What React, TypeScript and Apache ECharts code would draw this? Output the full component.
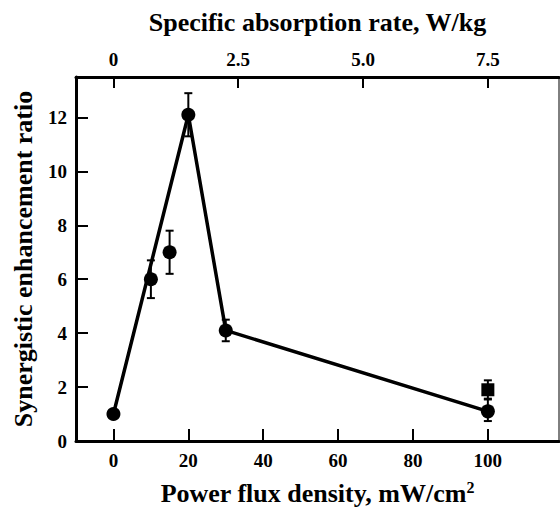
import React, { useEffect, useRef } from "react";
import * as echarts from "echarts";

const bottomTicks = [0, 20, 40, 60, 80, 100];
const topTicks = [0, 2.5, 5, 7.5];
const topTickLabels = ["0", "2.5", "5.0", "7.5"];
const yTicks = [0, 2, 4, 6, 8, 10, 12];

// circles: [power flux density, ratio]
const circlePoints = [
  [0, 1.0],
  [10, 6.0],
  [15, 7.0],
  [20, 12.1],
  [30, 4.1],
  [100, 1.1],
];
// error bars for circles: [x, low, high]
const circleErrors = [
  [10, 5.3, 6.7],
  [15, 6.2, 7.8],
  [20, 11.3, 12.9],
  [30, 3.7, 4.5],
  [100, 0.74, 1.54],
];
const squarePoints = [[100, 1.9]];
const squareErrors = [[100, 1.57, 2.25]];
const linePoints = [
  [0, 1.0],
  [20, 12.1],
  [30, 4.1],
  [100, 1.1],
];

const FONT = "'Liberation Serif', 'DejaVu Serif', serif";

export default function App() {
  const ref = useRef<HTMLDivElement>(null);
  useEffect(() => {
    if (!ref.current) return;
    const chart = echarts.init(ref.current, null, { renderer: "svg" });
    const errRender = (params: any, api: any) => {
      const x = api.value(0);
      const lo = api.coord([x, api.value(1)]);
      const hi = api.coord([x, api.value(2)]);
      const w = 4;
      const st = { stroke: "#000", lineWidth: 2 };
      return {
        type: "group",
        children: [
          { type: "line", shape: { x1: lo[0], y1: lo[1], x2: hi[0], y2: hi[1] }, style: st },
          { type: "line", shape: { x1: lo[0] - w, y1: lo[1], x2: lo[0] + w, y2: lo[1] }, style: st },
          { type: "line", shape: { x1: hi[0] - w, y1: hi[1], x2: hi[0] + w, y2: hi[1] }, style: st },
        ],
      };
    };
    const labelStyle = { color: "#000", fontFamily: FONT, fontWeight: "bold" as const, fontSize: 19 };
    const nameStyle = { color: "#000", fontFamily: FONT, fontWeight: "bold" as const, fontSize: 26 };
    chart.setOption({
      animation: false,
      grid: {
        left: 76,
        right: 1,
        top: 77,
        bottom: 69,
        show: true,
        borderColor: "#000",
        borderWidth: 1,
        containLabel: false,
      },
      xAxis: [
        {
          type: "value",
          position: "bottom",
          min: -10,
          max: 119,
          name: "Power flux density, mW/cm{sup|2}",
          nameLocation: "middle",
          nameGap: 38,
          nameTextStyle: {
            ...nameStyle,
            rich: {
              sup: {
                fontFamily: FONT,
                fontWeight: "bold",
                fontSize: 16,
                color: "#000",
                verticalAlign: "top",
                padding: [0, 0, 12, 0],
              },
            },
          },
          axisLine: { show: true, onZero: false, lineStyle: { color: "#000", width: 3 } },
          axisTick: { show: true, inside: true, length: 12, customValues: bottomTicks, lineStyle: { color: "#000", width: 2 } },
          axisLabel: { ...labelStyle, margin: 10, customValues: bottomTicks },
          splitLine: { show: false },
        },
        {
          type: "value",
          position: "top",
          min: -0.75,
          max: 8.925,
          name: "Specific absorption rate, W/kg",
          nameLocation: "middle",
          nameGap: 42,
          nameTextStyle: nameStyle,
          axisLine: { show: true, onZero: false, lineStyle: { color: "#000", width: 3 } },
          axisTick: { show: true, inside: true, length: 11, customValues: topTicks, lineStyle: { color: "#000", width: 2 } },
          axisLabel: {
            ...labelStyle,
            margin: 8,
            customValues: topTicks,
            formatter: (v: number) => {
              const i = topTicks.indexOf(v);
              return i >= 0 ? topTickLabels[i] : "";
            },
          },
          splitLine: { show: false },
        },
      ],
      yAxis: {
        type: "value",
        min: 0,
        max: 13.5,
        name: "Synergistic enhancement ratio",
        nameLocation: "middle",
        nameGap: 40,
        nameTextStyle: nameStyle,
        axisLine: { show: true, onZero: false, lineStyle: { color: "#000", width: 3 } },
        axisTick: { show: true, inside: true, length: 12, customValues: yTicks, lineStyle: { color: "#000", width: 2 } },
        axisLabel: { ...labelStyle, margin: 9, customValues: yTicks },
        splitLine: { show: false },
      },
      series: [
        {
          type: "line",
          xAxisIndex: 0,
          data: linePoints,
          symbol: "none",
          lineStyle: { color: "#000", width: 3.5 },
          z: 2,
        },
        {
          type: "custom",
          xAxisIndex: 0,
          data: circleErrors,
          renderItem: errRender,
          z: 3,
        },
        {
          type: "custom",
          xAxisIndex: 0,
          data: squareErrors,
          renderItem: errRender,
          z: 3,
        },
        {
          type: "scatter",
          xAxisIndex: 0,
          data: circlePoints,
          symbol: "circle",
          symbolSize: 14,
          itemStyle: { color: "#000", opacity: 1 },
          z: 4,
        },
        {
          type: "scatter",
          xAxisIndex: 0,
          data: squarePoints,
          symbol: "rect",
          symbolSize: [13, 13],
          itemStyle: { color: "#000", opacity: 1 },
          z: 4,
        },
      ],
    });
    return () => chart.dispose();
  }, []);
  return <div ref={ref} style={{ width: 560, height: 511, position: "absolute", left: 0, top: 0 }} />;
}
